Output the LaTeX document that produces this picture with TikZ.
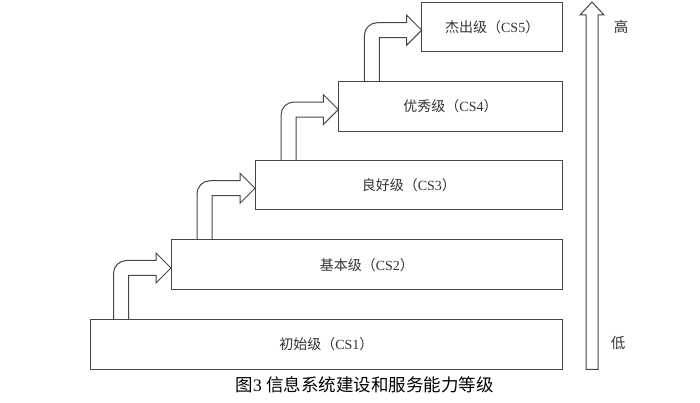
\documentclass[tikz,border=0pt]{standalone}
\usepackage{fontspec}
\setmainfont{Liberation Serif}
\newfontfamily\cjk{Noto Sans CJK SC}
\usetikzlibrary{calc}
\definecolor{ln}{HTML}{474747}
\definecolor{tx}{HTML}{333333}
\tikzset{
  box/.style={draw=ln, line width=1pt, inner sep=0pt, outer sep=0pt, anchor=south west,
    minimum height=49.5pt, text=tx, font=\fontsize{14}{16}\selectfont},
  arr/.style={draw=ln, line width=1pt, line join=miter},
  lbl/.style={text=tx, font=\cjk\fontsize{14.5}{16}\selectfont, inner sep=0pt}
}
\newcommand\bentarrow[3]{%
  \draw[arr] let \p1=(#1.north west), \p2=(#2.west) in
    (\x1+#3pt,\y1) -- (\x1+#3pt,\y2-8.5pt)
    arc[start angle=180,end angle=90,radius=13pt]
    -- (\x2-15pt,\y2+4.5pt) -- (\x2-15pt,\y2+12pt) -- (\x2,\y2-3pt)
    -- (\x2-15pt,\y2-18pt) -- (\x2-15pt,\y2-10.5pt)
    -- (\x1+#3pt+15pt,\y2-10.5pt) -- (\x1+#3pt+15pt,\y1);}
\begin{document}
\begin{tikzpicture}[x=1pt,y=1pt]
\useasboundingbox[fill=white] (0,0) rectangle (700,403);
\node[box, minimum width=472.7pt, minimum height=50pt] (c1) at (90,33.7) {{\cjk 初始级（}CS1{\cjk ）}};
\node[box, minimum width=391.7pt, minimum height=50pt] (c2) at (171,113) {{\cjk 基本级（}CS2{\cjk ）}};
\node[box, minimum width=307.7pt] (c3) at (255,193) {{\cjk 良好级（}CS3{\cjk ）}};
\node[box, minimum width=224.4pt] (c4) at (338.3,271.7) {{\cjk 优秀级（}CS4{\cjk ）}};
\node[box, minimum width=141pt, minimum height=49pt] (c5) at (421.7,351.3) {{\cjk 杰出级（}CS5{\cjk ）}};
\bentarrow{c1}{c2}{23.5}
\bentarrow{c2}{c3}{26}
\bentarrow{c3}{c4}{26}
\bentarrow{c4}{c5}{26}
% vertical scale arrow
\coordinate (lo) at (592,33.7);
\coordinate (hi) at (592,401);
\draw[arr] ($(lo)+(-6,0)$) -- ($(hi)+(-6,-13)$) -- ($(hi)+(-12,-13)$) -- (hi)
  -- ($(hi)+(12,-13)$) -- ($(hi)+(6,-13)$) -- ($(lo)+(6,0)$) -- cycle;
\node[lbl] (high) at (621,376) {高};
\node[lbl] (low) at (618,60) {低};
\node[text=black, inner sep=0pt, font=\fontsize{17.5}{20}\selectfont] (cap) at (364.7,18) {{\cjk 图}3 {\cjk 信息系统建设和服务能力等级}};
\end{tikzpicture}
\end{document}
